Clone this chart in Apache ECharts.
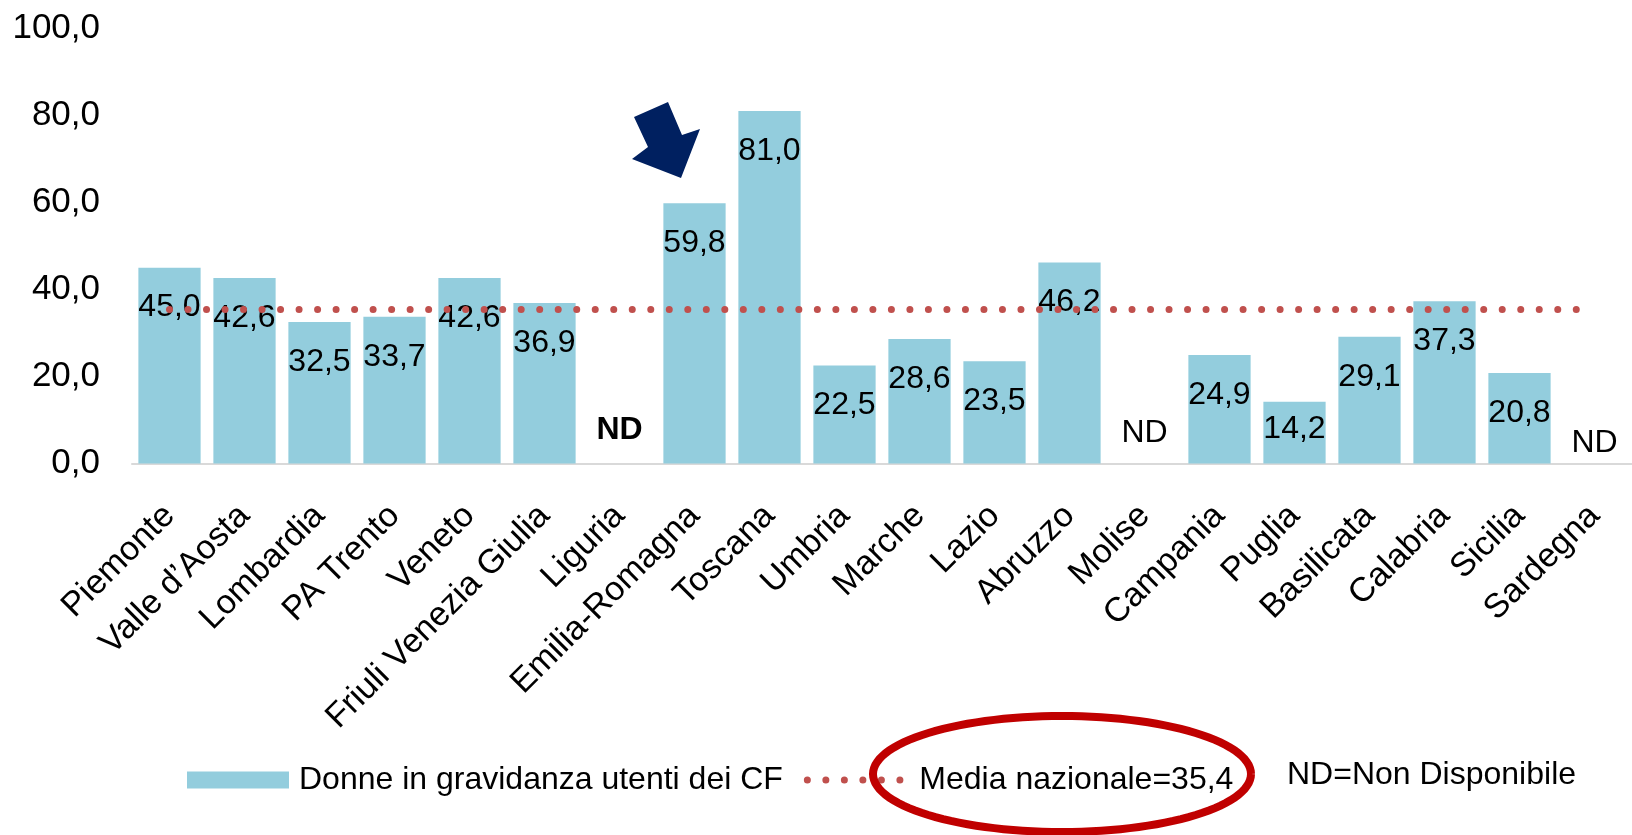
<!DOCTYPE html>
<html>
<head>
<meta charset="utf-8">
<script src="https://cdn.jsdelivr.net/npm/echarts@6/dist/echarts.min.js"></script>
<style>
  html, body { margin: 0; padding: 0; background: #fff; }
  #chart { width: 1632px; height: 835px; }
</style>
</head>
<body>
<div id="chart"></div>
<script>
// ---- data ----
const categories = ['Piemonte', "Valle d\u2019Aosta", 'Lombardia', 'PA Trento', 'Veneto',
  'Friuli Venezia Giulia', 'Liguria', 'Emilia-Romagna', 'Toscana', 'Umbria', 'Marche',
  'Lazio', 'Abruzzo', 'Molise', 'Campania', 'Puglia', 'Basilicata', 'Calabria', 'Sicilia', 'Sardegna'];
const values = [45.0, 42.6, 32.5, 33.7, 42.6, 36.9, null, 59.8, 81.0, 22.5, 28.6,
  23.5, 46.2, null, 24.9, 14.2, 29.1, 37.3, 20.8, null];
const nationalMean = 35.4;
const yTicks = [0, 20, 40, 60, 80, 100];
const barSeriesName = 'Donne in gravidanza utenti dei CF';
const lineSeriesName = 'Media nazionale=35,4';
const noteText = 'ND=Non Disponibile';
const ndText = 'ND';

// ---- styles ----
const FONT = "'Liberation Sans', Arial, sans-serif";
const BAR_COLOR = '#93CDDD';
const LINE_COLOR = '#C0504D';
const ndLabelStyle = {
  'Liguria': { distance: 17, fontWeight: 'bold' },
  'Molise': { distance: 14, fontWeight: 'normal' },
  'Sardegna': { distance: 4, fontWeight: 'normal' }
};
const labelOverride = { 'Puglia': { distance: 12 } };
const fmt = v => v.toFixed(1).replace('.', ',');

const barData = values.map((v, i) => {
  const cat = categories[i];
  if (v == null) {
    const s = ndLabelStyle[cat] || { distance: 14, fontWeight: 'normal' };
    return {
      value: 0,
      label: { show: true, position: 'top', formatter: ndText, distance: s.distance, fontWeight: s.fontWeight }
    };
  }
  const item = { value: v };
  if (labelOverride[cat]) item.label = labelOverride[cat];
  return item;
});
const meanData = categories.map(() => nationalMean);

const chart = echarts.init(document.getElementById('chart'), null, { renderer: 'canvas' });

// ellipse outline (annotation)
const ell = { cx: 1062, cy: 774, rx: 189, ry: 58 };
const ellPts = [];
for (let k = 0; k <= 120; k++) {
  const t = (k / 120) * Math.PI * 2;
  ellPts.push([ell.cx + ell.rx * Math.cos(t), ell.cy + ell.ry * Math.sin(t)]);
}

const option = {
  backgroundColor: '#fff',
  animation: false,
  textStyle: { fontFamily: FONT },
  grid: { left: 132, top: 28.4, width: 1512, height: 435, containLabel: false },
  xAxis: {
    type: 'category',
    data: categories,
    axisLine: { show: true, lineStyle: { color: '#d9d9d9', width: 2 } },
    axisTick: { show: false },
    axisLabel: {
      interval: 0, rotate: 45, margin: 47,
      fontSize: 34, color: '#000', fontFamily: FONT
    },
    splitLine: { show: false }
  },
  yAxis: {
    type: 'value',
    min: yTicks[0], max: yTicks[yTicks.length - 1], interval: yTicks[1] - yTicks[0],
    axisLine: { show: false },
    axisTick: { show: false },
    splitLine: { show: false },
    axisLabel: {
      formatter: v => fmt(v), fontSize: 35, color: '#000', margin: 32, fontFamily: FONT,
      padding: [6, 0, 0, 0]
    }
  },
  legend: {
    left: 182, top: 759,
    itemWidth: 102, itemHeight: 17, itemGap: 21,
    textStyle: { fontSize: 32, color: '#000', fontFamily: FONT, padding: [0, 0, 0, 5] },
    data: [
      { name: barSeriesName, icon: 'rect', itemStyle: { color: BAR_COLOR } },
      {
        name: lineSeriesName,
        itemStyle: { opacity: 0 },
        lineStyle: { color: LINE_COLOR, width: 7, type: [0.01, 18.5], cap: 'round' }
      }
    ]
  },
  series: [
    {
      name: barSeriesName,
      type: 'bar',
      data: barData,
      barCategoryGap: '17%',
      itemStyle: { color: BAR_COLOR },
      label: {
        show: true, position: 'insideTop', distance: 24,
        formatter: p => fmt(p.value),
        fontSize: 32, color: '#000', fontFamily: FONT
      },
      z: 2
    },
    {
      name: lineSeriesName,
      type: 'line',
      data: meanData,
      symbol: 'none',
      silent: true,
      itemStyle: { color: LINE_COLOR },
      lineStyle: { color: LINE_COLOR, width: 7, type: [0.01, 18.5], cap: 'round' },
      z: 3
    }
  ],
  graphic: [
    {
      type: 'text', left: 1287, top: 776 - 17,
      style: { text: noteText, font: "32px 'Liberation Sans', Arial, sans-serif", fill: '#000' },
      z: 10
    },
    {
      type: 'polygon',
      shape: { points: [[634, 117], [668, 102], [682, 135], [700, 129], [681, 178], [632, 159], [648, 147]] },
      style: { fill: '#002060' },
      z: 10
    },
    {
      type: 'polyline',
      shape: { points: ellPts },
      style: { stroke: '#C00000', lineWidth: 8, fill: null },
      z: 10
    }
  ]
};
chart.setOption(option);
</script>
</body>
</html>
